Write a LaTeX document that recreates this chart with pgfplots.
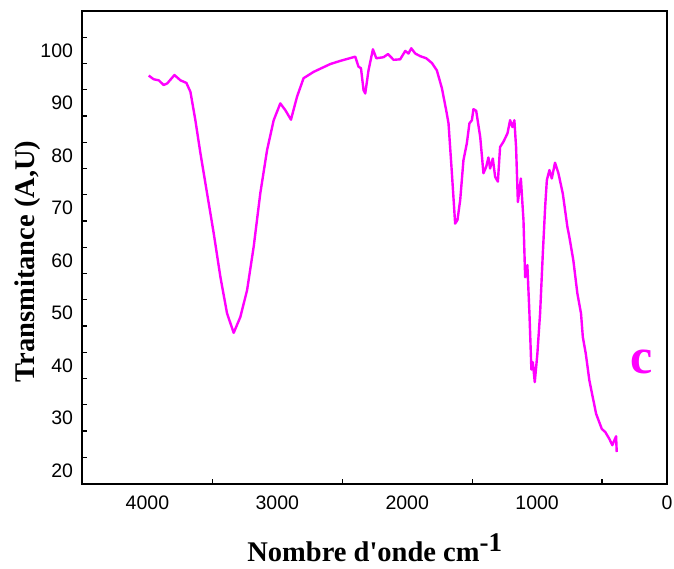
\documentclass[border=0pt]{standalone}
\usepackage{fontspec}
\setmainfont{Liberation Serif}
\newfontfamily\arial{Liberation Sans}
\usepackage{pgfplots}
\pgfplotsset{compat=1.18}
\definecolor{mag}{RGB}{255,0,255}
\begin{document}
\begin{tikzpicture}
\useasboundingbox (-82.5pt,-84.5pt) rectangle (591.5pt,483.5pt);
\begin{axis}[
  at={(0pt,0pt)}, anchor=south west,
  scale only axis, width=584.5pt, height=472.5pt,
  xmin=0, xmax=4500, x dir=reverse,
  ymin=17.5, ymax=107.5,
  axis line style={line width=2pt},
  xtick={0,1000,2000,3000,4000}, xticklabels={0,1000,2000,3000,4000},
  minor xtick={500,1500,2500,3500},
  ytick={20,30,40,50,60,70,80,90,100}, yticklabels={20,30,40,50,60,70,80,90,100},
  minor ytick={22.5,27.5,32.5,37.5,42.5,47.5,52.5,57.5,62.5,67.5,72.5,77.5,82.5,87.5,92.5,97.5,102.5},
  major tick length=0pt, minor tick length=4.5pt, tick align=inside, tick pos=left,
  every tick/.style={line width=1.2pt, black},
  tick label style={font=\arial\fontsize{19.5}{19.5}\selectfont},
  xticklabel style={yshift=-9pt},
  yticklabel style={xshift=-6pt},
  xlabel={\textbf{Nombre d\textquotesingle onde cm\raisebox{0.36em}{\fontsize{27}{27}\selectfont -1}}},
  xlabel style={font=\fontsize{28.5}{30}\selectfont\bfseries, at={(axis description cs:0.5,-0.166)}, anchor=base},
  ylabel={\textbf{Transmitance (A,U)}},
  ylabel style={font=\fontsize{28.5}{30}\selectfont\bfseries, at={(axis description cs:-0.0813,0.47)}, anchor=base, rotate=0},
  clip=false,
]
\addplot[mag, line width=2.4pt, line join=round] coordinates {
(3990,95.2) (3952,94.5) (3913,94.3) (3875,93.4) (3848,93.7) (3792,95.3) (3746,94.3) (3700,93.8)
(3669,92.1) (3631,86.7) (3592,80.4) (3541,72.8) (3490,65.2) (3438,56.8) (3387,49.9) (3336,46.2)
(3285,49.2) (3233,54.3) (3182,62.6) (3131,72.8) (3079,81.0) (3028,86.7) (2977,89.9) (2938,88.6)
(2895,86.8) (2848,91.2) (2798,94.7) (2721,95.9) (2592,97.4) (2515,98.0) (2400,98.8) (2375,96.9)
(2356,96.6) (2336,92.4) (2323,91.8) (2298,96.2) (2264,100.2) (2238,98.5) (2182,98.7) (2148,99.3)
(2105,98.2) (2054,98.3) (2015,99.9) (1990,99.4) (1969,100.4) (1938,99.4) (1900,98.9) (1854,98.5)
(1810,97.6) (1772,96.2) (1733,92.8) (1700,88.6) (1682,86.1) (1656,76.6) (1631,67.0) (1613,67.7)
(1592,71.5) (1567,79.1) (1541,82.3) (1521,86.1) (1502,86.7) (1490,88.8) (1469,88.5) (1438,83.5)
(1413,76.6) (1392,77.8) (1375,79.6) (1362,77.5) (1341,79.4) (1323,75.9) (1302,75.0) (1285,81.6)
(1259,82.6) (1228,84.2) (1208,86.7) (1190,85.4) (1175,86.7) (1162,81.6) (1148,71.1) (1125,75.6)
(1105,67.7) (1092,56.8) (1075,59.1) (1059,49.9) (1044,39.2) (1033,40.6) (1018,36.8) (998,42.2)
(977,49.9) (956,61.3) (938,70.2) (925,75.3) (905,77.2) (887,75.6) (862,78.6) (836,76.6)
(802,72.7) (767,66.4) (752,64.5) (721,60.0) (690,53.7) (662,49.9) (648,45.4) (625,42.2)
(598,37.2) (572,34.0) (546,30.8) (502,27.9) (475,27.3) (444,26.0) (421,24.8) (392,26.5) (387,23.5)
};
\node[text=mag, font=\fontsize{50}{50}\selectfont\bfseries] at (axis cs:192,40.6) {c};
\end{axis}
\end{tikzpicture}
\end{document}
